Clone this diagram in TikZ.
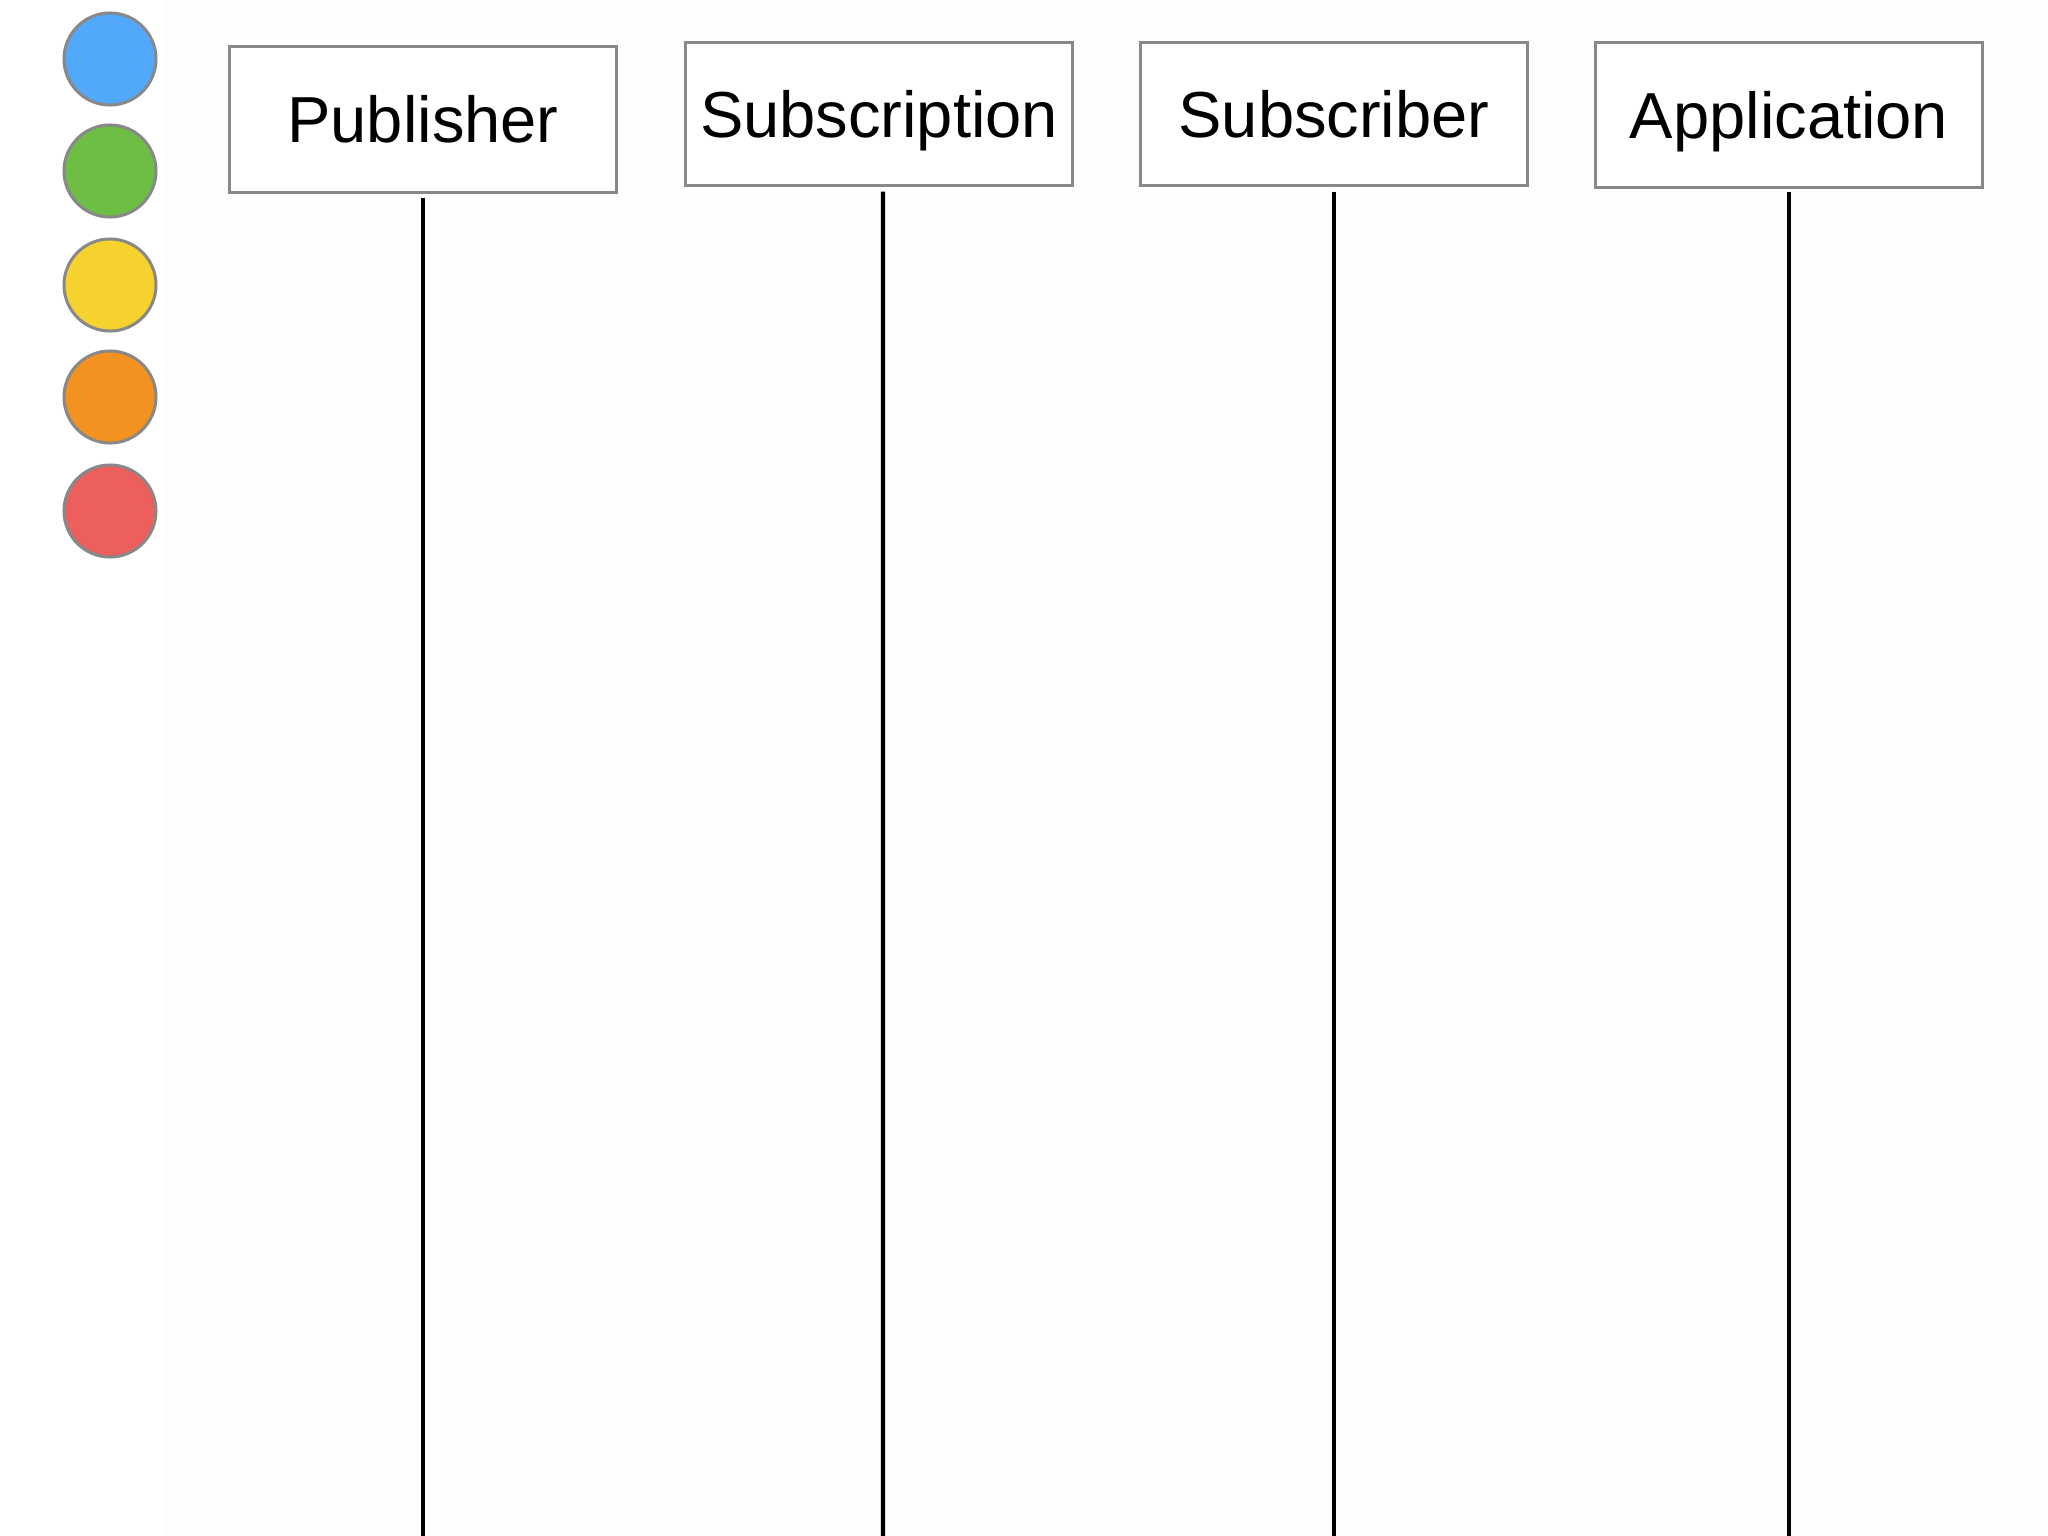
\documentclass[tikz,border=0pt]{standalone}
\usepackage{fontspec}
\setmainfont{Liberation Sans}
\begin{document}
\begin{tikzpicture}[x=0.01cm,y=-0.01cm,
  actor/.style={draw=boxgray, line width=0.85pt, fill=white, inner sep=0pt,
    minimum width=3.86cm, text height=13.3pt, text depth=0pt,
    font=\fontsize{18.5}{22}\selectfont},
  dot/.style={circle, draw=boxgray, line width=0.85pt, minimum size=0.92cm, inner sep=0pt},
  life/.style={line width=1.25pt, black}]
\definecolor{boxgray}{HTML}{888888}
\definecolor{bgfaint}{HTML}{FDFDFD}
\definecolor{cblue}{HTML}{52A8FA}
\definecolor{cgreen}{HTML}{6EBE45}
\definecolor{cyellow}{HTML}{F5D22E}
\definecolor{corange}{HTML}{F39220}
\definecolor{cred}{HTML}{EC5F5D}
\useasboundingbox (0,0) rectangle (2048,1536);
\fill[white] (0,0) rectangle (2048,1536);
\fill[bgfaint] (163,0) rectangle (2048,1536);
% colour dots
\node[dot, fill=cblue]   (d1) at (110,59) {};
\node[dot, fill=cgreen]  (d2) at (110,171) {};
\node[dot, fill=cyellow] (d3) at (110,285) {};
\node[dot, fill=corange] (d4) at (110,397) {};
\node[dot, fill=cred]    (d5) at (110,511) {};
% actors
\node[actor, minimum height=1.45cm] (pub) at (423,119.5) {Publisher};
\node[actor, minimum height=1.42cm] (sion) at (879,114) {Subscription};
\node[actor, minimum height=1.42cm] (sber) at (1334,114) {Subscriber};
\node[actor, minimum height=1.44cm] (app) at (1789,115) {Application};
% lifeline ends
\coordinate (pubE) at (423,1536);
\coordinate (sionE) at (883,1536);
\coordinate (sberE) at (1334,1536);
\coordinate (appE) at (1789,1536);
\draw[life] ([yshift=-0.04cm]pub.south) -- (pubE);
\draw[life] ([xshift=0.04cm,yshift=-0.05cm]sion.south) -- (sionE);
\draw[life] ([yshift=-0.05cm]sber.south) -- (sberE);
\draw[life] ([yshift=-0.03cm]app.south) -- (appE);
\end{tikzpicture}
\end{document}
